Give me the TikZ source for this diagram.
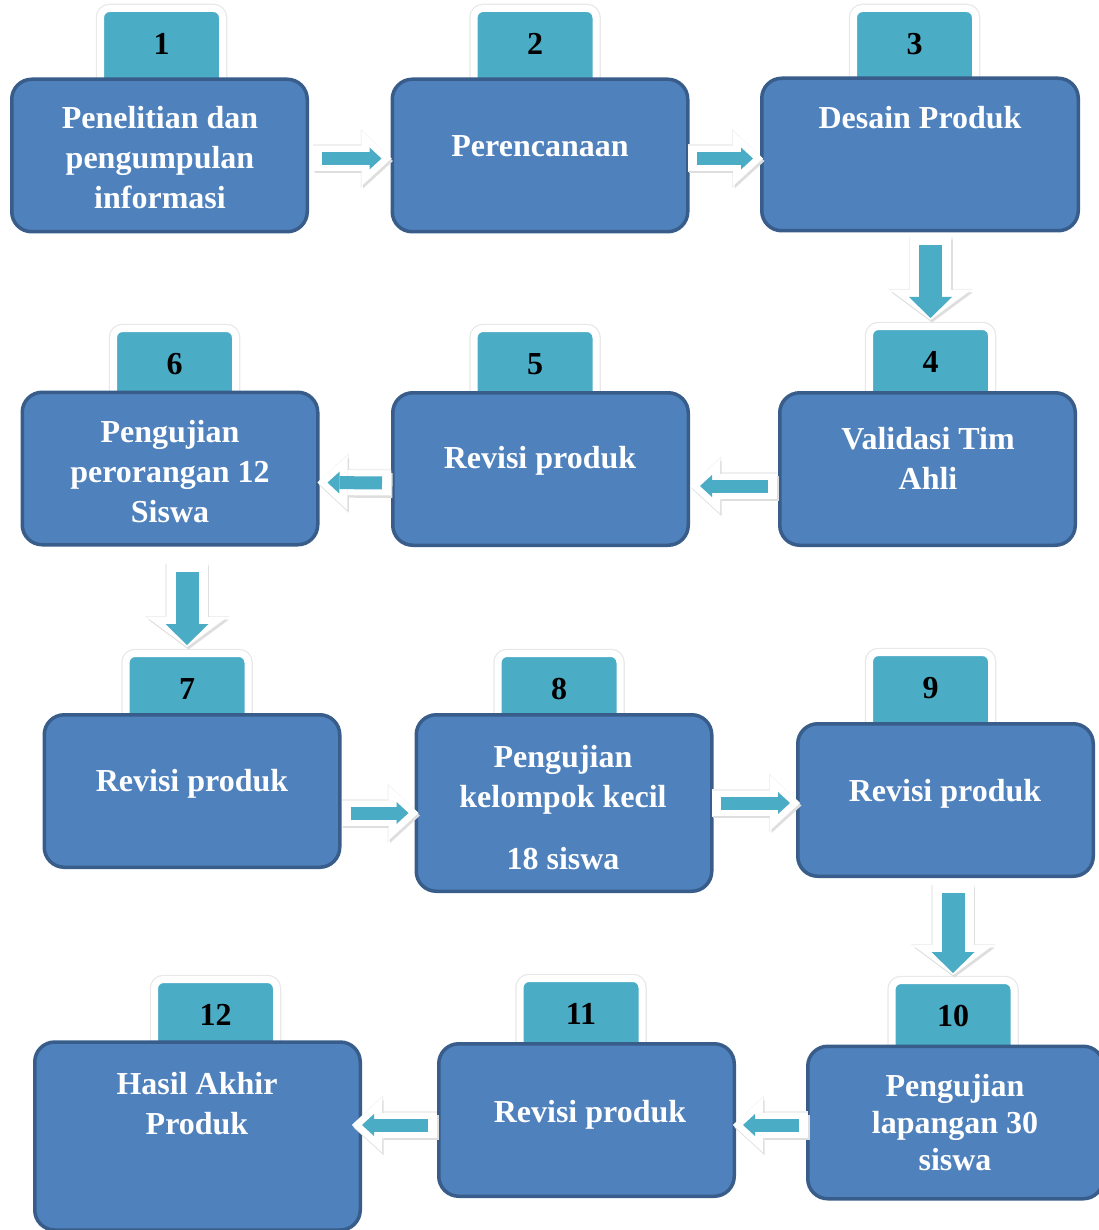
\documentclass[tikz,border=0pt]{standalone}
\usepackage{fontspec}
\setmainfont{Liberation Serif}
\usetikzlibrary{arrows.meta}

\definecolor{boxblue}{HTML}{4F81BD}
\definecolor{boxedge}{HTML}{385D8A}
\definecolor{tabteal}{HTML}{4BACC6}

\tikzset{
  stepbox/.style={rounded corners=20pt, fill=boxblue, draw=boxedge, line width=3.5pt,
    minimum width=295.5pt, minimum height=152.5pt, inner sep=0pt},
  steptab/.style={rounded corners=9pt, fill=tabteal, draw=white, line width=7pt,
    preaction={draw=black!9, line width=9.5pt},
    minimum width=122pt, minimum height=92pt, text depth=21pt, inner sep=0pt, anchor=north,
    font=\bfseries\fontsize{32}{40}\selectfont},
  steptext/.style={text=white, align=center, inner sep=0pt,
    font=\bfseries\fontsize{32}{40}\selectfont},
  hhalo/.style={draw=black!6, line width=28pt, -{Triangle[width=59pt,length=31pt,line width=0pt]}},
  hshade/.style={draw=black!13, line width=25pt, -{Triangle[width=55pt,length=30pt,line width=0pt]},
    transform canvas={shift={(1.5pt,-2.5pt)}}},
  hwhite/.style={draw=white, line width=25pt, -{Triangle[width=55pt,length=30pt,line width=0pt]}},
  hteal/.style={draw=tabteal, line width=13pt, shorten <=9pt, shorten >=10pt,
    -{Triangle[width=22pt,length=12pt,line width=0pt]}},
  vhalo/.style={draw=black!6, line width=44pt, -{Triangle[width=85pt,length=31pt,line width=0pt]}},
  vshade/.style={draw=black!13, line width=41pt, -{Triangle[width=81pt,length=30pt,line width=0pt]},
    transform canvas={shift={(1.5pt,-2.5pt)}}},
  vwhite/.style={draw=white, line width=41pt, -{Triangle[width=81pt,length=30pt,line width=0pt]}},
  vteal/.style={draw=tabteal, line width=23pt, shorten <=8pt, shorten >=2pt,
    -{Triangle[width=43pt,length=21pt,line width=0pt]}},
}

% block arrow: #1 tail, #2 tip
\newcommand{\hflow}[2]{\draw[hhalo] #1 -- #2; \draw[hshade] #1 -- #2; \draw[hwhite] #1 -- #2; \draw[hteal] #1 -- #2;}
\newcommand{\vflow}[2]{\draw[vhalo] #1 -- #2; \draw[vshade] #1 -- #2; \draw[vwhite] #1 -- #2; \draw[vteal] #1 -- #2;}

\begin{document}
\begin{tikzpicture}[x=1pt, y=-1pt]
\useasboundingbox (0,0) rectangle (1098,1230);

% tabs
\node[steptab] (t1) at (161.5,5) {1};
\node[steptab] (t2) at (535,5) {2};
\node[steptab] (t3) at (914.5,5) {3};
\node[steptab] (t4) at (930.5,323) {4};
\node[steptab] (t5) at (535,325) {5};
\node[steptab] (t6) at (174.5,325) {6};
\node[steptab] (t7) at (187,650) {7};
\node[steptab] (t8) at (559,650) {8};
\node[steptab] (t9) at (930.5,649) {9};
\node[steptab] (t10) at (953,977) {10};
\node[steptab] (t11) at (581,975) {11};
\node[steptab] (t12) at (215.5,976) {12};

% boxes
\node[stepbox] (b1) at (159.5,155.5) {};
\node[stepbox] (b2) at (540,155.5) {};
\node[stepbox, minimum width=316.5pt] (b3) at (920,154.5) {};
\node[stepbox] (b4) at (927.5,469) {};
\node[stepbox] (b5) at (540.5,469) {};
\node[stepbox] (b6) at (170,468.5) {};
\node[stepbox] (b7) at (192,791) {};
\node[stepbox, minimum height=176.5pt] (b8) at (564,803) {};
\node[stepbox] (b9) at (945.5,800) {};
\node[stepbox] (b10) at (955.5,1122.5) {};
\node[stepbox] (b11) at (586.5,1120) {};
\node[stepbox, minimum width=325.5pt, minimum height=188pt] (b12) at (197.5,1136) {};

% texts
\node[steptext] (l1) at (160,158) {Penelitian dan\\pengumpulan\\informasi};
\node[steptext] (l2) at (540,146) {Perencanaan};
\node[steptext] (l3) at (920,118) {Desain Produk};
\node[steptext] (l4) at (928,458) {Validasi Tim\\Ahli};
\node[steptext] (l5) at (540,461) {Revisi produk};
\node[steptext] (l6) at (170,472) {Pengujian\\perorangan 12\\Siswa};
\node[steptext] (l7) at (192,784) {Revisi produk};
\node[steptext] (l8) at (563,808) {Pengujian\\kelompok kecil\\[22pt]18 siswa};
\node[steptext] (l9) at (945,794) {Revisi produk};
\node[steptext] (l10) at (955,1123) {Pengujian\\[-3pt]lapangan 30\\[-3pt]siswa};
\node[steptext] (l11) at (590,1115) {Revisi produk};
\node[steptext] (l12) at (197,1104) {Hasil Akhir\\Produk};

% arrows
\hflow{([shift={(4pt,-3pt)}]b1.east)}{([shift={(1pt,-3pt)}]b2.west)}
\hflow{([shift={(-2pt,-3pt)}]b2.east)}{([shift={(3pt,-4pt)}]b3.west)}
\vflow{([yshift=-5pt]b3.south -| t4.north)}{([yshift=3pt]t4.north)}
\hflow{([shift={(-1pt,-17pt)}]b4.west)}{([shift={(0pt,-17pt)}]b5.east)}
\hflow{([shift={(0pt,-14pt)}]b5.west)}{([shift={(-2pt,-14pt)}]b6.east)}
\vflow{([yshift=-17pt]b6.south -| t7.north)}{([yshift=3pt]t7.north)}
\hflow{([shift={(0pt,-22pt)}]b7.east)}{([shift={(4pt,-10pt)}]b8.west)}
\hflow{([shift={(-2pt,0pt)}]b8.east)}{([shift={(4pt,-3pt)}]b9.west)}
\vflow{([yshift=-7pt]b9.south -| t10.north)}{([yshift=2pt]t10.north)}
\hflow{([shift={(2pt,-2.5pt)}]b10.west)}{([shift={(-3pt,-5pt)}]b11.east)}
\hflow{([shift={(0pt,-5pt)}]b11.west)}{([shift={(-10pt,11pt)}]b12.east)}
\end{tikzpicture}
\end{document}
